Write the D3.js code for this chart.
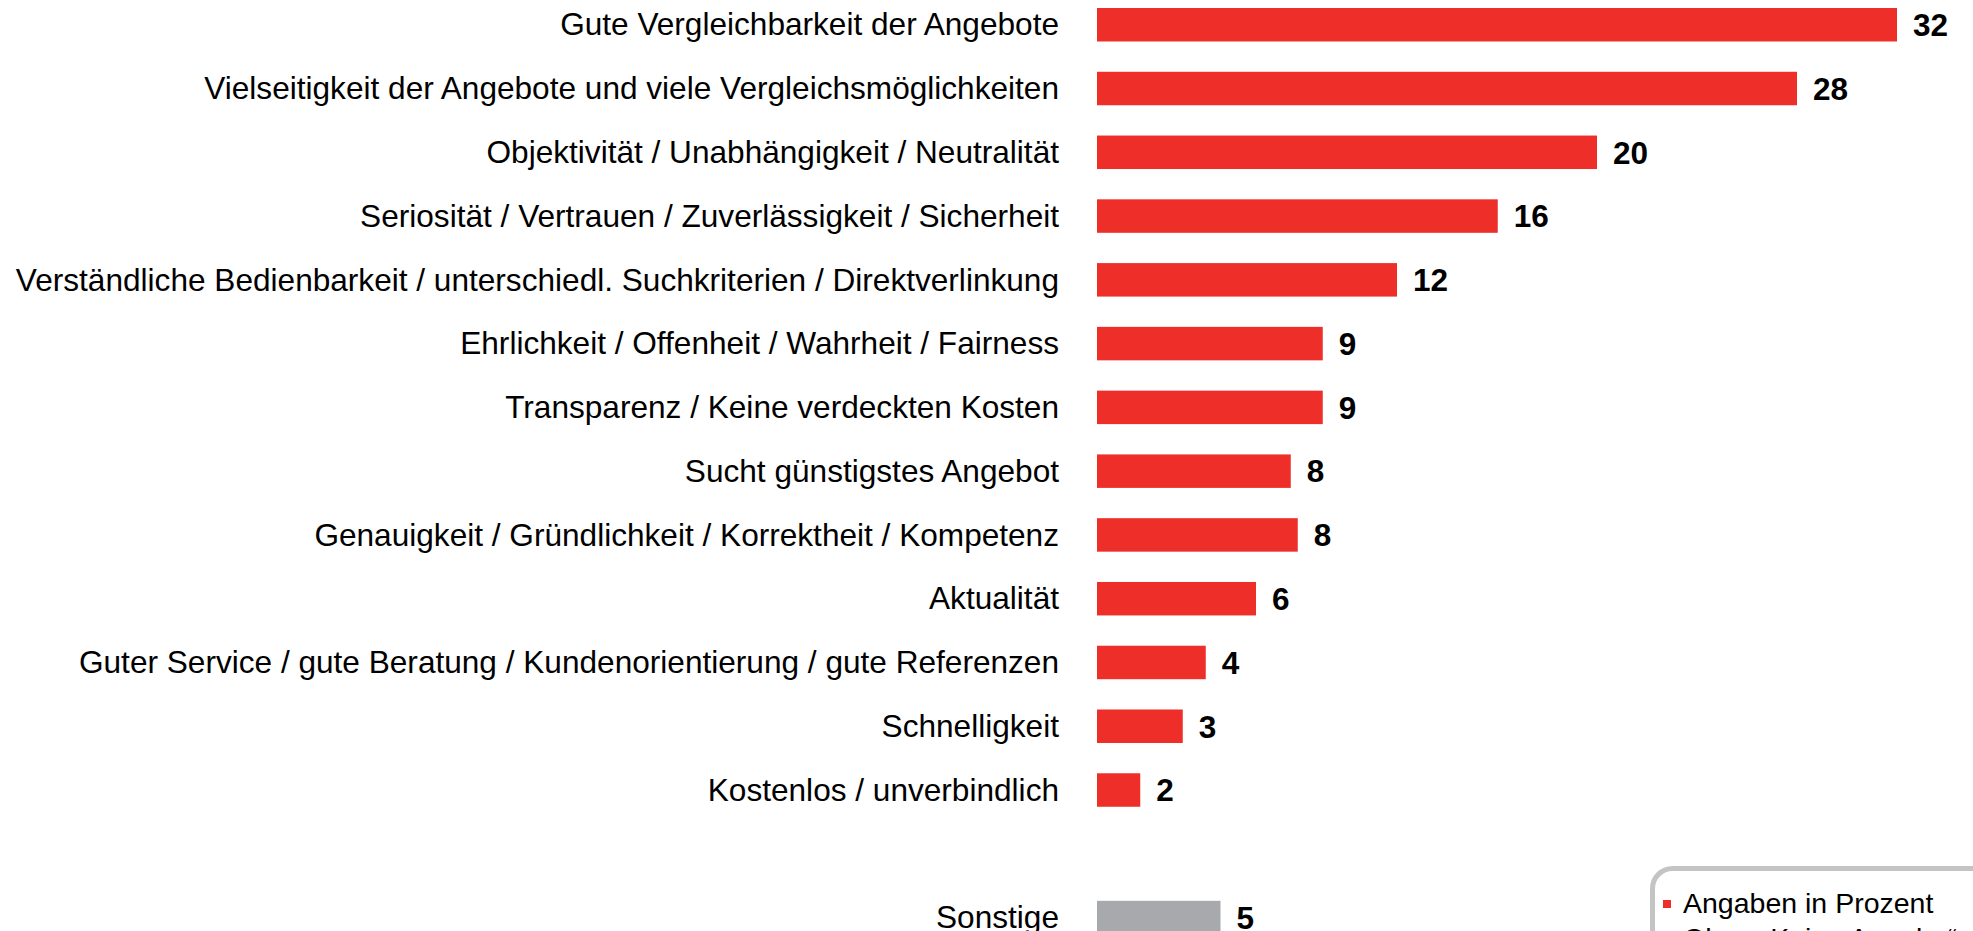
<!DOCTYPE html>
<html>
<head>
<meta charset="utf-8">
<script src="https://cdn.jsdelivr.net/npm/d3@7"></script>
<style>
	body { margin: 0; background: #fff; overflow: hidden; }
	svg { display: block; font-family: "Liberation Sans", Arial, Helvetica, sans-serif; }
</style>
</head>
<body>
<svg id="chart" width="1973" height="931"></svg>
<script>
var categories = [
	"Gute Vergleichbarkeit der Angebote",
	"Vielseitigkeit der Angebote und viele Vergleichsmöglichkeiten",
	"Objektivität / Unabhängigkeit / Neutralität",
	"Seriosität / Vertrauen / Zuverlässigkeit / Sicherheit",
	"Verständliche Bedienbarkeit / unterschiedl. Suchkriterien / Direktverlinkung",
	"Ehrlichkeit / Offenheit / Wahrheit / Fairness",
	"Transparenz / Keine verdeckten Kosten",
	"Sucht günstigstes Angebot",
	"Genauigkeit / Gründlichkeit / Korrektheit / Kompetenz",
	"Aktualität",
	"Guter Service / gute Beratung / Kundenorientierung / gute Referenzen",
	"Schnelligkeit",
	"Kostenlos / unverbindlich"
];
// bar lengths as drawn, labels are the rounded values
var values = [32, 28, 20, 16.03, 12, 9.03, 9.03, 7.75, 8.03, 6.36, 4.35, 3.43, 1.73];
var valueLabels = ["32", "28", "20", "16", "12", "9", "9", "8", "8", "6", "4", "3", "2"];

var otherCategory = ["Sonstige"];
var otherValues = [4.94];
var otherLabels = ["5"];

var legendLines = ["Angaben in Prozent", "Ohne \u201EKeine Angabe\u201C"];

var red = "#ee2e28",
	grey = "#a8a9ad";

var svg = d3.select("#chart");

// one empty slot between the main list and "Sonstige"
var rows = categories.concat(["__gap"], otherCategory);

var y = d3.scaleBand()
	.domain(rows)
	.range([8, 934.3])
	.paddingInner(0.475)
	.paddingOuter(0);

var x = d3.scaleLinear()
	.domain([0, 32])
	.range([1097, 1897]);

var data = categories.map(function(c, i) {
	return { name: c, value: values[i], label: valueLabels[i], color: red };
}).concat(otherCategory.map(function(c, i) {
	return { name: c, value: otherValues[i], label: otherLabels[i], color: grey };
}));

var rowsG = svg.append("g").selectAll("g")
	.data(data)
	.enter()
	.append("g");

rowsG.append("rect")
	.attr("x", x(0))
	.attr("y", function(d) { return y(d.name); })
	.attr("width", function(d) { return x(d.value) - x(0); })
	.attr("height", y.bandwidth())
	.attr("fill", function(d) { return d.color; });

rowsG.append("text")
	.attr("x", 1059)
	.attr("y", function(d) { return y(d.name) + y.bandwidth() / 2; })
	.attr("dy", "0.34em")
	.attr("text-anchor", "end")
	.attr("font-size", 31.6)
	.attr("fill", "#000")
	.text(function(d) { return d.name; });

rowsG.append("text")
	.attr("x", function(d) { return x(d.value) + 16; })
	.attr("y", function(d) { return y(d.name) + y.bandwidth() / 2; })
	.attr("dy", "0.36em")
	.attr("font-size", 31.5)
	.attr("font-weight", "bold")
	.attr("fill", "#000")
	.text(function(d) { return d.label; });

// note box, runs off the bottom right corner
var legend = svg.append("g");

legend.append("rect")
	.attr("x", 1652.5)
	.attr("y", 868.5)
	.attr("width", 400)
	.attr("height", 200)
	.attr("rx", 20)
	.attr("fill", "#fff")
	.attr("stroke", "#c4c4c4")
	.attr("stroke-width", 5);

legend.append("rect")
	.attr("x", 1663)
	.attr("y", 900)
	.attr("width", 8)
	.attr("height", 8)
	.attr("fill", red);

legend.selectAll("text.note")
	.data(legendLines)
	.enter()
	.append("text")
	.attr("class", "note")
	.attr("x", 1683)
	.attr("y", function(d, i) { return 913 + i * 35; })
	.attr("font-size", 28.5)
	.attr("fill", "#000")
	.text(function(d) { return d; });
</script>
</body>
</html>
